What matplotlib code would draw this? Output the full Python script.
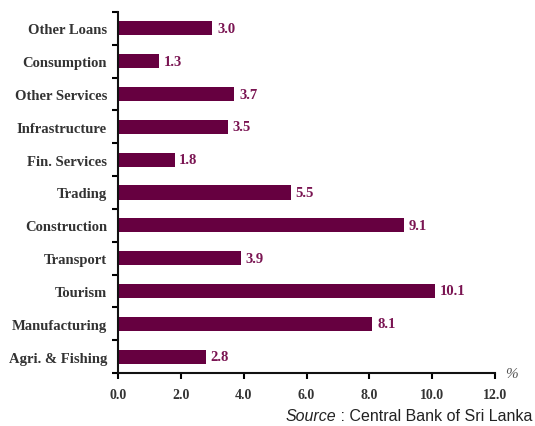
import numpy as np
import matplotlib

matplotlib.use("Agg")
import matplotlib.pyplot as plt

sectors = ["Agri. & Fishing", "Manufacturing", "Tourism", "Transport", "Construction",
           "Trading", "Fin. Services", "Infrastructure", "Other Services", "Consumption",
           "Other Loans"]
values = [2.8, 8.1, 10.1, 3.9, 9.1, 5.5, 1.8, 3.5, 3.7, 1.3, 3.0]
xticks = [0, 2, 4, 6, 8, 10, 12]

BAR = "#660040"
VAL = "#7a1452"
TXT = "#333333"
SERIF = "Liberation Serif"

fig = plt.figure(figsize=(5.35, 4.27), dpi=100)
ax = fig.add_axes([0.2206, 0.1241, 0.7046, 0.8455])

y = np.arange(len(sectors))
ax.barh(y, values, height=0.43, color=BAR)
for yi, v in zip(y, values):
    ax.text(v + 0.15, yi, "{:.1f}".format(v), va="center", ha="left",
            fontsize=10.5, fontweight="bold", family=SERIF, color=VAL)

ax.set_xlim(0, 12)
ax.set_ylim(-0.5, len(sectors) - 0.5)
ax.set_xticks(xticks)
ax.set_xticklabels(["{:.1f}".format(t) for t in xticks], fontsize=10,
                   fontweight="bold", family=SERIF, color=TXT)
ax.set_yticks(y)
ax.set_yticklabels(sectors, fontsize=10.5, fontweight="bold", family=SERIF, color=TXT)
ax.set_yticks(np.arange(len(sectors) + 1) - 0.5, minor=True)
ax.tick_params(axis="y", which="major", length=0, pad=8)
ax.tick_params(axis="y", which="minor", length=4, width=1.5, direction="out")
ax.tick_params(axis="x", length=4, width=1.5, direction="out", pad=7)

ax.spines[["top", "right"]].set_visible(False)
for s in ("left", "bottom"):
    ax.spines[s].set_linewidth(1.5)
    ax.spines[s].set_color("#111111")

ax.text(1.045, 0.0, "%", transform=ax.transAxes, ha="center", va="center",
        fontsize=11, style="italic", family=SERIF, color="#555555")

# source line: italic "Source" followed by regular text, right aligned
src = fig.text(0.996, 0.006, " : Central Bank of Sri Lanka", ha="right", va="bottom",
               fontsize=11.5, family="Liberation Sans", color="#222222")
fig.canvas.draw()
bb = src.get_window_extent()
fig.text(bb.x0 / fig.bbox.width, 0.006, "Source", ha="right", va="bottom",
         fontsize=11.5, style="italic", family="Liberation Sans", color="#222222")

fig.savefig("out.png", dpi=100)
